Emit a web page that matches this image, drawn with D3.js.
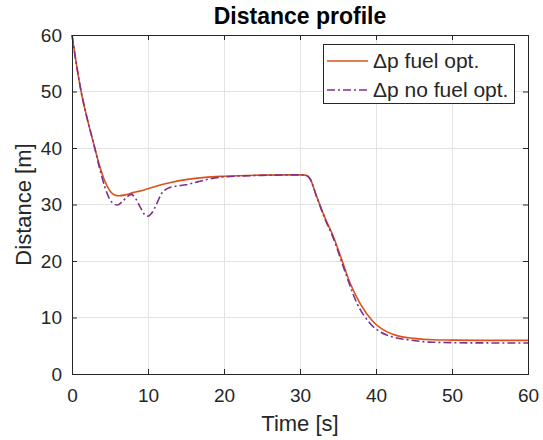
<!DOCTYPE html>
<html>
<head>
<meta charset="utf-8">
<script src="https://cdn.jsdelivr.net/npm/d3@7"></script>
<style>
  body { margin: 0; background: #fff; }
  text { font-family: "Liberation Sans", Arial, sans-serif; fill: #262626; }
</style>
</head>
<body>
<div id="chart"></div>
<script>
// time samples [s] and distances [m]
var timeFuel = [0, 0.5, 1.2, 2.0, 2.9, 3.6, 4.3, 5.0, 5.6, 6.2, 7, 8, 9, 10, 11.5, 13, 15, 17.5, 20, 25, 30, 30.7, 31.3, 32.2, 33.3, 34.4, 35.5, 36.6, 37.9, 39.6, 41.4, 43, 45, 47.5, 50, 55, 60];
var distFuel = [60, 55.5, 50, 45.2, 40.5, 37, 34.2, 32.4, 31.7, 31.55, 31.7, 32.1, 32.4, 32.8, 33.4, 33.9, 34.4, 34.8, 35.0, 35.2, 35.25, 35.2, 34.6, 31.4, 27.6, 24.3, 20.2, 16.05, 12.5, 9.3, 7.5, 6.7, 6.3, 6.05, 6.0, 5.95, 5.95];

var timeNoFuel = [0, 0.5, 1.2, 2.0, 2.9, 3.6, 4.3, 4.9, 5.5, 6, 6.6, 7.3, 7.8, 8.3, 9, 9.5, 10, 10.5, 11.2, 11.8, 12.5, 13.5, 15, 16.5, 18, 20, 25, 30, 30.7, 31.3, 32.2, 33.3, 34.4, 35.7, 37.5, 39.2, 41.4, 44.5, 47, 50, 55, 60];
var distNoFuel = [60, 55.5, 50, 45.2, 40.5, 36.6, 33.2, 31.1, 30.1, 29.9, 30.5, 31.4, 31.8, 31.2, 29.5, 28.3, 27.95, 28.5, 30.3, 32.0, 32.8, 33.2, 33.5, 34.0, 34.5, 34.9, 35.15, 35.25, 35.2, 34.6, 31.3, 27.4, 24.0, 19.0, 12.5, 9.0, 6.9, 6.0, 5.65, 5.55, 5.5, 5.5];

var xTicks = [0, 10, 20, 30, 40, 50, 60];
var yTicks = [0, 10, 20, 30, 40, 50, 60];
var legendLabels = ["\u0394p fuel opt.", "\u0394p no fuel opt."];

var W = 543, H = 440;
var margin = {top: 35, right: 15, bottom: 66, left: 72},
    width = W - margin.left - margin.right,
    height = H - margin.top - margin.bottom;

var colFuel = "#D95319", colNoFuel = "#7E2F8E", axisCol = "#262626";
var dashDot = "8,3,2,3";

var svg = d3.select("#chart").append("svg").attr("width", W).attr("height", H);
var g = svg.append("g").attr("transform", "translate(" + margin.left + "," + margin.top + ")");

var x = d3.scaleLinear().domain([0, 60]).range([0, width]);
var y = d3.scaleLinear().domain([0, 60]).range([height, 0]);

// grid
g.append("g").selectAll("line").data(xTicks.slice(1, -1)).enter().append("line")
    .attr("x1", function (d) { return x(d); }).attr("x2", function (d) { return x(d); })
    .attr("y1", 0).attr("y2", height)
    .style("stroke", "#e3e3e3").style("stroke-width", 1).style("shape-rendering", "crispEdges");
g.append("g").selectAll("line").data(yTicks.slice(1, -1)).enter().append("line")
    .attr("y1", function (d) { return y(d); }).attr("y2", function (d) { return y(d); })
    .attr("x1", 0).attr("x2", width)
    .style("stroke", "#e3e3e3").style("stroke-width", 1).style("shape-rendering", "crispEdges");

// lines
var line = d3.line().curve(d3.curveMonotoneX)
    .x(function (d) { return x(d[0]); })
    .y(function (d) { return y(d[1]); });

g.append("path").datum(d3.zip(timeFuel, distFuel))
    .attr("d", line).style("fill", "none").style("stroke", colFuel).style("stroke-width", 1.6);
g.append("path").datum(d3.zip(timeNoFuel, distNoFuel))
    .attr("d", line).style("fill", "none").style("stroke", colNoFuel).style("stroke-width", 1.6)
    .style("stroke-dasharray", dashDot);

// axes (inward ticks, box)
function styleAxis(sel) {
    sel.selectAll("path").style("stroke", axisCol).style("shape-rendering", "crispEdges");
    sel.selectAll("line").style("stroke", axisCol);
    sel.selectAll("text").style("font-size", "19px").style("fill", axisCol);
}
g.append("g").attr("transform", "translate(0," + height + ")")
    .call(d3.axisBottom(x).tickValues(xTicks).tickSizeInner(-5).tickSizeOuter(0).tickPadding(15))
    .call(styleAxis);
g.append("g")
    .call(d3.axisLeft(y).tickValues(yTicks).tickSizeInner(-5).tickSizeOuter(0).tickPadding(10))
    .call(styleAxis);
g.append("g")
    .call(d3.axisTop(x).tickValues(xTicks).tickSizeInner(-5).tickSizeOuter(0).tickFormat(""))
    .call(styleAxis);
g.append("g").attr("transform", "translate(" + width + ",0)")
    .call(d3.axisRight(y).tickValues(yTicks).tickSizeInner(-5).tickSizeOuter(0).tickFormat(""))
    .call(styleAxis);
svg.selectAll(".domain").attr("fill", "none");

// labels
svg.append("text").attr("x", margin.left + width / 2).attr("y", 24)
    .attr("text-anchor", "middle").style("font-size", "23px").style("font-weight", "bold")
    .style("fill", "#000").text("Distance profile");
svg.append("text").attr("x", margin.left + width / 2).attr("y", 431)
    .attr("text-anchor", "middle").style("font-size", "22px").text("Time [s]");
svg.append("text").attr("transform", "translate(31," + (margin.top + height / 2) + ") rotate(-90)")
    .attr("text-anchor", "middle").style("font-size", "22px").text("Distance [m]");

// legend
var leg = svg.append("g").attr("transform", "translate(323,44)");
leg.append("rect").attr("width", 191).attr("height", 59)
    .style("fill", "#fff").style("stroke", axisCol).style("stroke-width", 1).style("shape-rendering", "crispEdges");
var items = [{c: colFuel, dash: null}, {c: colNoFuel, dash: dashDot}];
items.forEach(function (it, i) {
    var yy = 17 + i * 29;
    leg.append("line").attr("x1", 4).attr("x2", 45).attr("y1", yy).attr("y2", yy)
        .style("stroke", it.c).style("stroke-width", 1.6).style("stroke-dasharray", it.dash);
    leg.append("text").attr("x", 50).attr("y", yy).attr("dy", "0.35em")
        .style("font-size", "21px").text(legendLabels[i]);
});
</script>
</body>
</html>
